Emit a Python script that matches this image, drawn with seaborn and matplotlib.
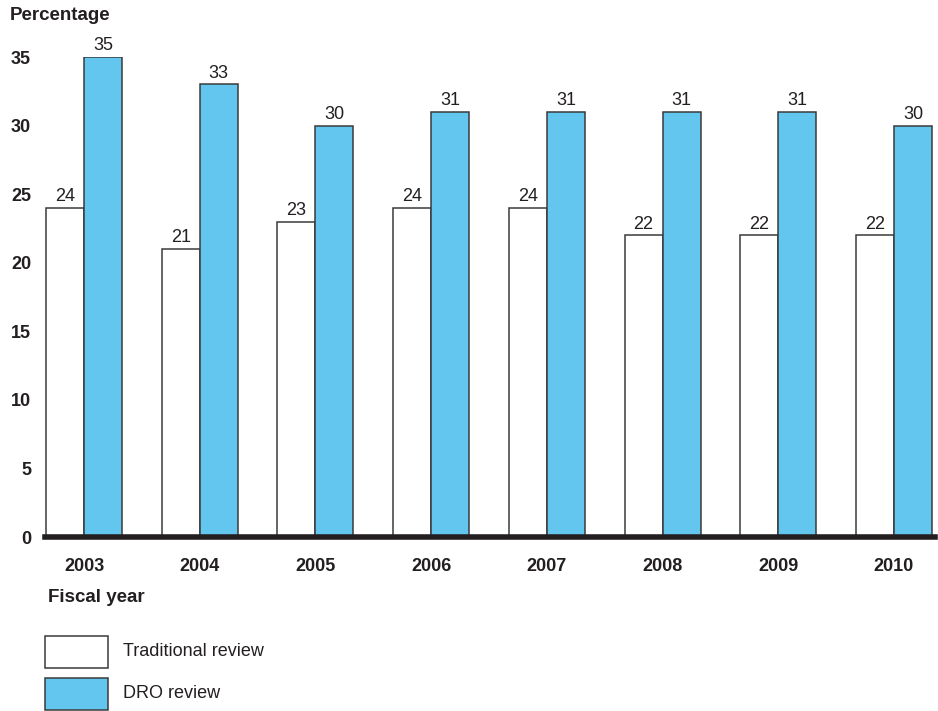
import matplotlib
matplotlib.use("Agg")
import matplotlib.pyplot as plt
from matplotlib.patches import Rectangle
import seaborn as sns
import pandas as pd

years = ["2003", "2004", "2005", "2006", "2007", "2008", "2009", "2010"]
traditional = [24, 21, 23, 24, 24, 22, 22, 22]
dro = [35, 33, 30, 31, 31, 31, 31, 30]
series_names = ["Traditional review", "DRO review"]
y_ticks = [0, 5, 10, 15, 20, 25, 30, 35]

WHITE = "#ffffff"
BLUE = "#63c6ee"
EDGE = "#3a3a3a"
DARK = "#231f20"

sns.set_theme(style="white")
plt.rcParams["font.family"] = ["Liberation Sans", "DejaVu Sans"]

df = pd.DataFrame({
    "year": years * 2,
    "value": traditional + dro,
    "series": [series_names[0]] * len(years) + [series_names[1]] * len(years),
})

fig = plt.figure(figsize=(9.38, 7.11), dpi=100)
ax = fig.add_axes([45 / 938, 174 / 711, 890 / 938, 480 / 711])

sns.barplot(
    data=df, x="year", y="value", hue="series", hue_order=series_names,
    palette=[WHITE, BLUE], width=0.657, gap=0, saturation=1,
    edgecolor=EDGE, linewidth=1.1, legend=False, ax=ax,
)

for container in ax.containers:
    ax.bar_label(container, fmt="%d", padding=2, fontsize=13, color=DARK)

ax.set_ylim(0, 35)
ax.set_xlim(-0.338, 7.355)
ax.set_yticks(y_ticks)
ax.set_yticklabels([str(t) for t in y_ticks], fontsize=13, fontweight="bold", color=DARK)
ax.tick_params(axis="y", length=0, pad=10)
ax.tick_params(axis="x", length=0, pad=15, labelsize=13)
for lbl in ax.get_xticklabels():
    lbl.set_fontweight("bold")
    lbl.set_color(DARK)
ax.set_xlabel("")
ax.set_ylabel("")
for side in ["top", "right", "left"]:
    ax.spines[side].set_visible(False)
ax.spines["bottom"].set_color(DARK)
ax.spines["bottom"].set_linewidth(4)
ax.spines["bottom"].set_zorder(5)

fig.text(10 / 938, 1 - 16 / 711, "Percentage", fontsize=13.5, fontweight="bold",
         color=DARK, ha="left", va="center")
fig.text(48 / 938, 1 - 598 / 711, "Fiscal year", fontsize=13.5, fontweight="bold",
         color=DARK, ha="left", va="center")

# legend drawn as boxes with text beside them
for i, (name, color) in enumerate(zip(series_names, [WHITE, BLUE])):
    top = 636 + i * 42
    fig.patches.append(Rectangle(
        (45 / 938, 1 - (top + 32) / 711), 63 / 938, 32 / 711,
        transform=fig.transFigure, facecolor=color, edgecolor=EDGE, linewidth=1.1))
    fig.text(123 / 938, 1 - (top + 16) / 711, name, fontsize=13, color=DARK,
             ha="left", va="center")

fig.savefig("out.png", dpi=100)
